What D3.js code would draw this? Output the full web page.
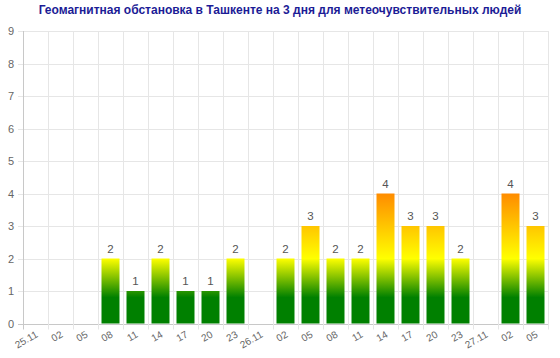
<!DOCTYPE html>
<html><head><meta charset="utf-8">
<script src="https://cdn.jsdelivr.net/npm/d3@7"></script>
<style>
html,body{margin:0;padding:0;background:#fff;}
svg{display:block;font-family:"Liberation Sans",Arial,sans-serif;}
</style></head>
<body><svg id="c" width="560" height="358"></svg>
<script>
const title = "Геомагнитная обстановка в Ташкенте на 3 дня для метеочувствительных людей";
const categories = ["25.11","02","05","08","11","14","17","20","23","26.11","02","05","08","11","14","17","20","23","27.11","02","05"];
const values = [null,null,null,2,1,2,1,1,2,null,2,3,2,2,4,3,3,2,null,4,3];
const yTicks = [0,1,2,3,4,5,6,7,8,9];

const svg = d3.select("#c");
const m = {left:23, right:12, top:31, bottom:34.5};
const W = 560, H = 358;
const keys = categories.map((d,i)=>i);
const x = d3.scaleBand().domain(keys).range([m.left, W-m.right]).paddingInner(0.28).paddingOuter(0.14);
const xg = d3.scaleBand().domain(keys).range([m.left, W-m.right]);
const y = d3.scaleLinear().domain([0,9]).range([H-m.bottom, m.top]);

const defs = svg.append("defs");
const grad = defs.append("linearGradient").attr("id","g").attr("gradientUnits","userSpaceOnUse")
  .attr("x1",0).attr("x2",0).attr("y1",y(0)).attr("y2",y(9));
[[0,"#008000"],[0.8,"#008000"],[2,"#ffff00"],[4,"#ff8c00"],[5,"#ff3300"],[9,"#cc0000"]].forEach(([v,c])=>{
  grad.append("stop").attr("offset",v/9).attr("stop-color",c);
});

svg.append("text").attr("x",280).attr("y",14).attr("text-anchor","middle")
  .attr("font-size",12).attr("font-weight","bold").attr("fill","#1c1c96").text(title);

// horizontal grid
const gy = svg.append("g");
gy.selectAll("line").data(yTicks).join("line")
  .attr("x1",m.left-5).attr("x2",W-m.right).attr("y1",d=>Math.round(y(d))+0.5).attr("y2",d=>Math.round(y(d))+0.5)
  .attr("stroke",d=>d===0?"#c8c8c8":"#e6e6e6").attr("stroke-width",1);
gy.selectAll("text").data(yTicks).join("text")
  .attr("x",m.left-9).attr("y",d=>y(d)+4).attr("text-anchor","end")
  .attr("font-size",11).attr("fill","#666").text(d=>d);

// vertical grid
const gx = svg.append("g");
const bounds = keys.map(k=>xg(k)).concat([W-m.right]);
gx.selectAll("line").data(bounds).join("line")
  .attr("x1",d=>Math.round(d)+0.5).attr("x2",d=>Math.round(d)+0.5)
  .attr("y1",m.top).attr("y2",y(0)+6)
  .attr("stroke",(d,i)=>i===0?"#c8c8c8":"#e6e6e6");

// bars
const data = values.map((v,i)=>({i,v})).filter(d=>d.v!=null);
svg.append("g").selectAll("rect").data(data).join("rect")
  .attr("x",d=>x(d.i)).attr("width",x.bandwidth())
  .attr("y",d=>y(d.v)).attr("height",d=>y(0)-y(d.v))
  .attr("fill","url(#g)");
svg.append("g").selectAll("text").data(data).join("text")
  .attr("x",d=>x(d.i)+x.bandwidth()/2).attr("y",d=>y(d.v)-6).attr("text-anchor","middle")
  .attr("font-size",11.5).attr("fill","#555").text(d=>d.v);

// x labels
svg.append("g").selectAll("text").data(categories).join("text")
  .attr("transform",(d,i)=>`translate(${xg(i)+xg.bandwidth()/2+3},${y(0)+13}) rotate(-30)`)
  .attr("text-anchor","end")
  .attr("font-size",10).attr("fill","#666").text(d=>d);
</script></body></html>
